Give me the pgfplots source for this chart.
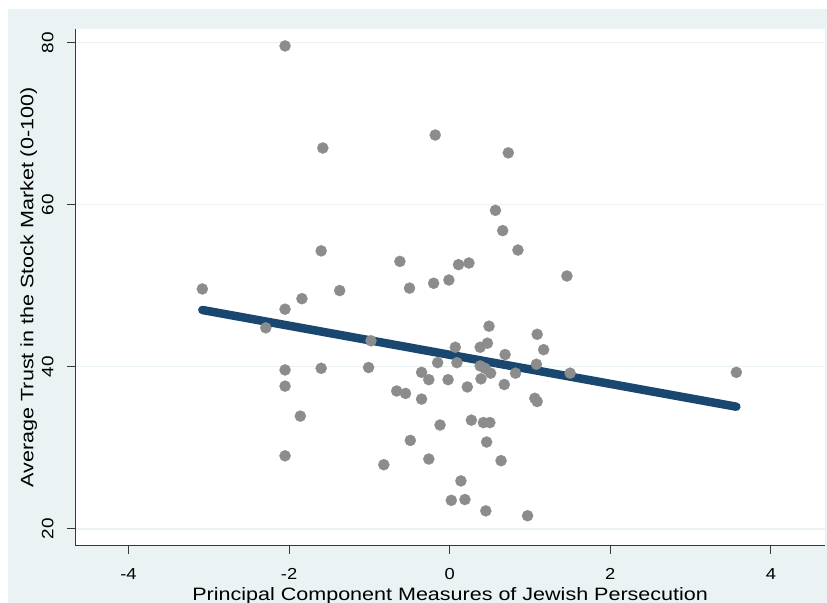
\documentclass[border=0pt]{standalone}
\usepackage{pgfplots}
\pgfplotsset{compat=1.18}
\usepackage{fontspec}
\setmainfont{Liberation Sans}
\usepackage{graphicx}
\definecolor{bgc}{RGB}{234,242,243}
\definecolor{navyc}{RGB}{26,71,111}
\definecolor{dotc}{RGB}{140,140,140}
\definecolor{axc}{RGB}{55,55,55}
\newcommand{\tl}[1]{\scalebox{1.15}[1]{#1}}
\newcommand{\lb}[1]{\scalebox{1.2}[1]{#1}}
\begin{document}
\begin{tikzpicture}[x=1bp,y=1bp]
\useasboundingbox (0,0) rectangle (827,-603);
\fill[white] (0,0) rectangle (827,-603);
\fill[bgc] (8,-9) rectangle (827,-603);
\begin{axis}[
  at={(75.3bp,-545.7bp)}, anchor=south west,
  width=749.7bp, height=516.7bp, scale only axis,
  xmin=-4.662, xmax=4.674, ymin=17.9, ymax=81.69,
  axis x line*=bottom, axis y line*=left,
  axis line style={axc, line width=1.2bp, -},
  axis background/.style={fill=white},
  ymajorgrids, grid style={bgc, line width=1.6bp},
  tick align=outside, major tick length=8bp,
  tick style={axc, line width=1bp},
  xtick={-4,-2,0,2,4},
  xticklabels={\tl{-4},\tl{-2},\tl{0},\tl{2},\tl{4}},
  ytick={20,40,60,80},
  yticklabels={\tl{20},\tl{40},\tl{60},\tl{80}},
  ticklabel style={font=\fontsize{16}{18}\selectfont, text=black},
  xticklabel style={anchor=base, yshift=-25.3bp},
  yticklabel style={font=\fontsize{16.5}{18}\selectfont, rotate=90, anchor=base, yshift=14bp},
  xlabel={\lb{Principal Component Measures of Jewish Persecution}},
  ylabel={\lb{Average Trust in the Stock Market (0-100)}},
  label style={font=\fontsize{18}{20}\selectfont},
  xlabel style={at={(axis description cs:0.5,-0.1051)}, anchor=base},
  ylabel style={at={(axis description cs:-0.056,0.5)}, anchor=base, rotate=0},
  clip=false,
]
\addplot[only marks, mark=*, mark size=5.6bp, mark options={draw=dotc, fill=dotc, line width=0.2bp}] coordinates {
(-2.05,79.6) (-1.58,67.0) (-1.60,54.3) (-0.62,53.0) (-3.08,49.6) (-1.84,48.4)
(-1.37,49.4) (-0.50,49.7) (-0.18,68.6) (0.73,66.4) (0.57,59.3) (0.66,56.8)
(0.85,54.4) (0.11,52.6) (0.24,52.8) (1.46,51.2) (-0.20,50.3) (-0.01,50.7)
(-2.05,47.1) (-2.29,44.8) (-0.98,43.2) (-2.05,39.6) (-1.60,39.8) (-1.01,39.9)
(-2.05,37.6) (-0.66,37.0) (-0.55,36.7) (-0.35,36.0) (-1.86,33.9) (-0.49,30.9)
(-2.05,29.0) (-0.82,27.9) (0.49,45.0) (1.09,44.0) (0.47,42.9) (0.38,42.4)
(0.07,42.4) (1.17,42.1) (0.69,41.5) (-0.15,40.5) (0.09,40.5) (1.08,40.3)
(0.38,40.1) (0.44,39.8) (0.51,39.2) (0.82,39.2) (1.50,39.2) (3.57,39.3)
(-0.35,39.3) (-0.26,38.4) (-0.02,38.4) (0.39,38.5) (0.22,37.5) (0.68,37.8)
(1.06,36.1) (1.09,35.7) (0.27,33.4) (0.42,33.1) (0.50,33.1) (-0.12,32.8)
(0.46,30.7) (-0.26,28.6) (0.64,28.4) (0.14,25.9) (0.02,23.5) (0.19,23.6)
(0.45,22.2) (0.97,21.6)
};
\addplot[navyc, line width=8.5bp, line cap=round] coordinates {(-3.08,47.0) (3.57,35.06)};
\end{axis}
\end{tikzpicture}
\end{document}
